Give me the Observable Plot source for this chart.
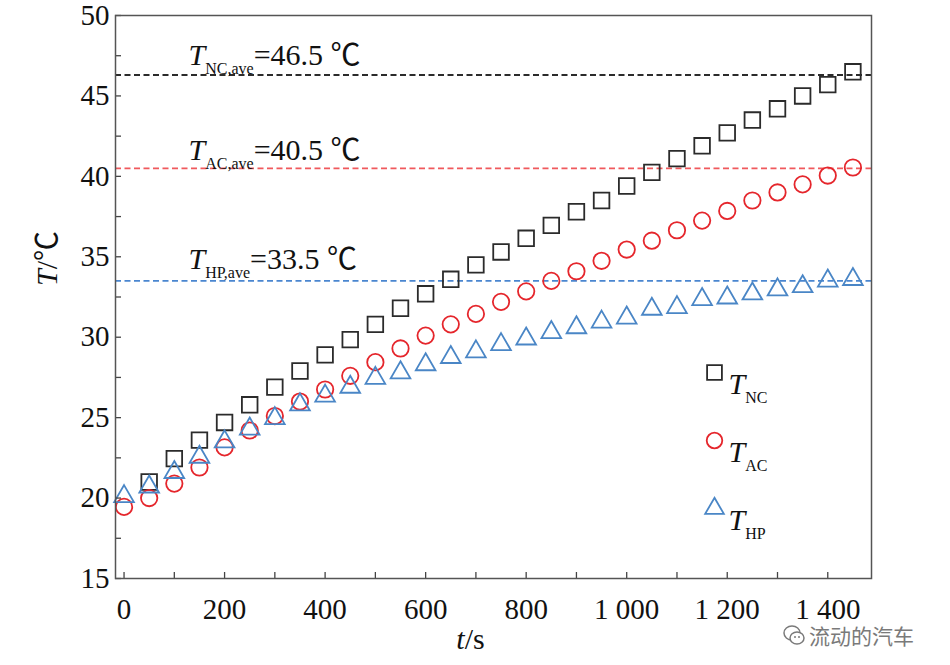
<!DOCTYPE html>
<html><head><meta charset="utf-8">
<script src="https://cdn.jsdelivr.net/npm/d3@7"></script>
<script src="https://cdn.jsdelivr.net/npm/@observablehq/plot@0.6"></script>
<style>
body{margin:0;background:#fff;}
#wrap{position:relative;width:950px;height:665px;overflow:hidden;}
#chart svg, #chart svg text{font-family:'Liberation Serif','Times New Roman',serif !important;}
#chart svg tspan.cjk{font-family:'Noto Sans CJK SC',sans-serif !important;}
#wm{position:absolute;left:782px;top:623px;font-family:'Noto Sans CJK SC',sans-serif;font-size:21px;line-height:21px;color:#7a7a7a;display:flex;align-items:center;gap:3px;white-space:nowrap;}
#wm span{line-height:21px;}
</style></head>
<body><div id="wrap"><div id="chart"></div>
<div id="wm"><svg width="24" height="24" viewBox="0 0 24 24"><ellipse cx="10" cy="10" rx="8" ry="7" fill="none" stroke="#7a7a7a" stroke-width="1.5"/><ellipse cx="15" cy="15" rx="7" ry="6" fill="#fff" stroke="#7a7a7a" stroke-width="1.5"/><circle cx="13" cy="14" r="1" fill="#7a7a7a"/><circle cx="17" cy="14" r="1" fill="#7a7a7a"/></svg><span>流动的汽车</span></div>
</div>
<script>
// ---- data ----
const time = [0, 50, 100, 150, 200, 250, 300, 350, 400, 450, 500, 550, 600, 650, 700, 750, 800, 850, 900, 950, 1000, 1050, 1100, 1150, 1200, 1250, 1300, 1350, 1400, 1450];
const tempNC = [null, 21.0, 22.45, 23.6, 24.7, 25.8, 26.9, 27.9, 28.9, 29.85, 30.8, 31.8, 32.7, 33.6, 34.5, 35.3, 36.15, 36.95, 37.8, 38.5, 39.4, 40.25, 41.1, 41.9, 42.7, 43.5, 44.2, 45.0, 45.7, 46.5];
const tempAC = [19.45, 20.0, 20.9, 21.9, 23.15, 24.2, 25.1, 26.0, 26.75, 27.6, 28.45, 29.3, 30.1, 30.8, 31.45, 32.2, 32.85, 33.5, 34.1, 34.75, 35.45, 36.0, 36.65, 37.25, 37.85, 38.5, 39.0, 39.5, 40.05, 40.55];
const tempHP = [20.1, 20.7, 21.6, 22.55, 23.5, 24.3, 24.95, 25.8, 26.35, 26.9, 27.45, 27.8, 28.3, 28.75, 29.1, 29.55, 29.9, 30.3, 30.6, 30.95, 31.2, 31.75, 31.85, 32.35, 32.45, 32.7, 32.95, 33.15, 33.5, 33.6];
const seriesKeys = ["NC", "AC", "HP"];
const aveLinePos = [46.3, 40.5, 33.5];
const aveLabels = ["46.5", "40.5", "33.5"];
const xTicks = [0, 100, 200, 300, 400, 500, 600, 700, 800, 900, 1000, 1100, 1200, 1300, 1400];
const xLabelTicks = [0, 200, 400, 600, 800, 1000, 1200, 1400];
const xTickLabels = ["0", "200", "400", "600", "800", "1 000", "1 200", "1 400"];
const yTicks = [15, 17.5, 20, 22.5, 25, 27.5, 30, 32.5, 35, 37.5, 40, 42.5, 45, 47.5, 50];
const yLabelTicks = [15, 20, 25, 30, 35, 40, 45, 50];
const yTickLabels = ["15", "20", "25", "30", "35", "40", "45", "50"];

// ---- styles ----
const seriesValues = [tempNC, tempAC, tempHP];
const markColors = ["#2b2b2b", "#e5262c", "#4a86c6"];
const lineColors = ["#2b2b2b", "#f0595c", "#4a86d0"];
const symbols = ["square", "circle", "triangle"];
const radii = [8.8, 8.2, 7.3];
const W = 950, H = 665, mL = 115, mR = 79, mT = 15, mB = 87;
const plotW = W - mL - mR, plotH = H - mT - mB;

const marks = [];
seriesKeys.forEach((k, i) => {
  marks.push(Plot.ruleY([aveLinePos[i]], {y: d => d, stroke: lineColors[i], strokeWidth: 1.8, strokeDasharray: "6,3.5"}));
});
seriesKeys.forEach((k, i) => {
  const rows = time.map((t, j) => ({t, T: seriesValues[i][j]})).filter(d => d.T != null);
  marks.push(Plot.dot(rows, {x: "t", y: "T", symbol: symbols[i], r: radii[i], stroke: markColors[i], strokeWidth: 1.8, fill: "none"}));
});
// annotations
const annDy = [-20, -18, -22];
seriesKeys.forEach((k, i) => {
  marks.push(Plot.text([aveLinePos[i]], {y: d => d, frameAnchor: "left", dx: 73, dy: annDy[i], textAnchor: "start",
    text: () => `*T*_{${k},ave}=${aveLabels[i]} ℃`, fontSize: 30, fill: "#111"}));
});
// legend
seriesKeys.forEach((k, i) => {
  marks.push(Plot.dot([k], {frameAnchor: "top-left", dx: 599, dy: 357 + 68 * i, symbol: symbols[i], r: radii[i] * 0.95, stroke: markColors[i], strokeWidth: 1.8, fill: "none"}));
  marks.push(Plot.text([k], {frameAnchor: "top-left", dx: 613, dy: 357 + 68 * i, textAnchor: "start", text: d => `*T*_{${d}}`, fontSize: 30, fill: "#111"}));
});
// inward ticks
marks.push(Plot.tickX(xTicks, {x: d => d, insetTop: plotH - 6, stroke: "#444", strokeWidth: 1.3}));
marks.push(Plot.tickY(yTicks, {y: d => d, insetRight: plotW - 6, stroke: "#444", strokeWidth: 1.3}));
marks.push(Plot.axisX({ticks: xLabelTicks, tickSize: 0, tickPadding: 20, tickFormat: d => xTickLabels[xLabelTicks.indexOf(d)], fontSize: 29, label: null}));
marks.push(Plot.axisY({ticks: yLabelTicks, tickSize: 0, tickPadding: 6, tickFormat: d => yTickLabels[yLabelTicks.indexOf(d)], fontSize: 29, label: null}));
// axis titles
marks.push(Plot.text(["*t*/s"], {frameAnchor: "bottom", dx: -23, dy: 70, text: d => d, fontSize: 30, fill: "#111"}));
marks.push(Plot.text(["*T*/℃"], {frameAnchor: "left", dx: -68, dy: -11, rotate: -90, text: d => d, fontSize: 30, fill: "#111"}));
marks.push(Plot.frame({stroke: "#555", strokeWidth: 1.5}));

const chart = Plot.plot({
  width: W, height: H,
  marginLeft: mL, marginRight: mR, marginTop: mT, marginBottom: mB,
  x: {domain: [-17, 1487]},
  y: {domain: [15, 50]},
  style: {color: "#111", background: "#fff", overflow: "visible"},
  marks
});

// rich text: *italic*, _{subscript}, ℃ in CJK font
d3.select(chart).selectAll("text").each(function () {
  const s = this.textContent;
  if (!/[\*℃]|_\{/.test(s)) return;
  const el = d3.select(this);
  el.text(null);
  const re = /\*([^*]+)\*|_\{([^}]+)\}|(℃)|([^*_℃]+)/g;
  let m, shifted = 0;
  while ((m = re.exec(s))) {
    const ts = el.append("tspan");
    if (m[2]) {
      ts.text(m[2]).attr("font-size", 16).attr("dy", 9);
      shifted = 9;
    } else {
      ts.text(m[1] || m[3] || m[4]);
      if (m[1]) ts.attr("font-style", "italic");
      if (m[3]) ts.attr("class", "cjk");
      if (shifted) { ts.attr("dy", -shifted); shifted = 0; }
    }
  }
});
document.getElementById("chart").appendChild(chart);
</script>
</body></html>
